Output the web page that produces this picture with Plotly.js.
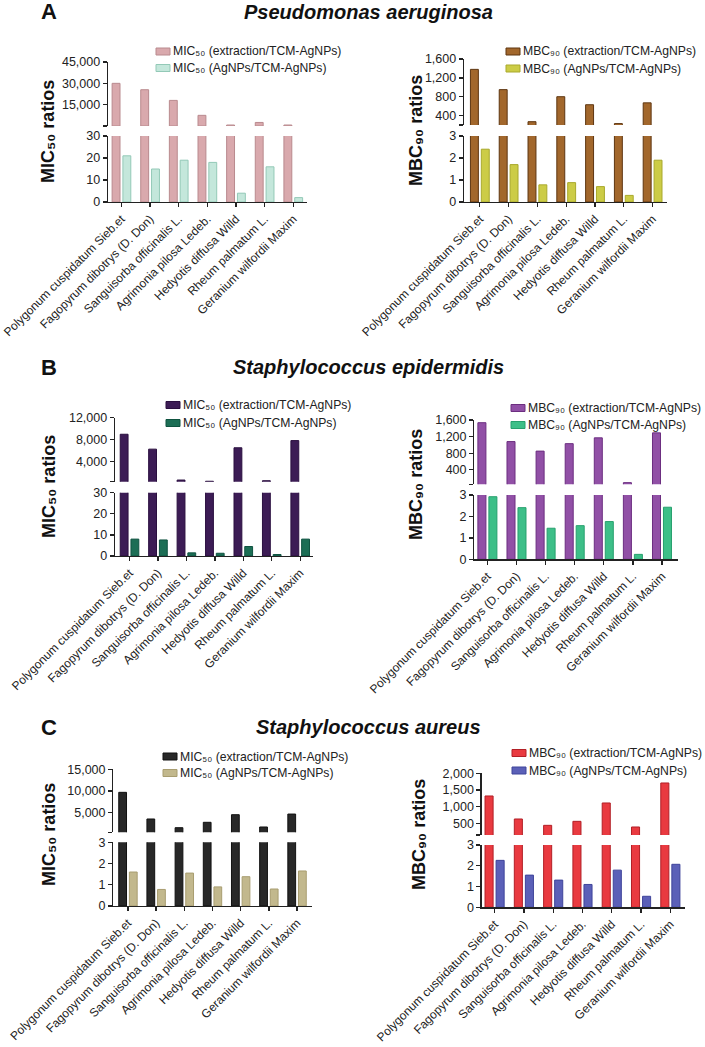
<!DOCTYPE html>
<html><head><meta charset="utf-8">
<script src="https://cdn.plot.ly/plotly-3.0.1.min.js"></script>
<style>html,body{margin:0;padding:0;background:#fff}#chart{width:705px;height:1047px}</style>
</head><body><div id="chart"></div>
<script>
// ---------- DATA ----------
const categories = ['Polygonum cuspidatum Sieb.et', 'Fagopyrum dibotrys (D. Don)', 'Sanguisorba officinalis L.',
  'Agrimonia pilosa Ledeb.', 'Hedyotis diffusa Willd', 'Rheum palmatum L.', 'Geranium wilfordii Maxim'];

// A: Pseudomonas aeruginosa
const paMicExtraction = [30000, 25500, 18000, 7500, 700, 2500, 700];
const paMicAgNPs      = [21, 15, 19, 18, 4, 16, 2];
const paMbcExtraction = [1380, 950, 270, 800, 630, 230, 670];
const paMbcAgNPs      = [2.4, 1.7, 0.78, 0.88, 0.7, 0.3, 1.9];
// B: Staphylococcus epidermidis
const seMicExtraction = [9000, 6300, 700, 480, 6550, 580, 7850];
const seMicAgNPs      = [8, 7.6, 1.5, 1.3, 4.5, 0.7, 8];
const seMbcExtraction = [1535, 1080, 850, 1030, 1170, 90, 1290];
const seMbcAgNPs      = [2.92, 2.41, 1.45, 1.57, 1.76, 0.23, 2.43];
// C: Staphylococcus aureus
const saMicExtraction = [9700, 3560, 1560, 2800, 4550, 1720, 4700];
const saMicAgNPs      = [1.6, 0.78, 1.55, 0.9, 1.38, 0.8, 1.65];
const saMbcExtraction = [1320, 630, 440, 560, 1110, 390, 1710];
const saMbcAgNPs      = [2.26, 1.55, 1.31, 1.1, 1.79, 0.53, 2.07];

// tick values (upper segment first value = axis break, unlabeled)
const paMicUpperTicks = [0, 15000, 30000, 45000];
const paMbcUpperTicks = [200, 400, 800, 1200, 1600];
const seMicUpperTicks = [400, 4000, 8000, 12000];
const seMbcUpperTicks = [50, 400, 800, 1200, 1600];
const saMicUpperTicks = [500, 5000, 10000, 15000];
const saMbcUpperTicks = [150, 500, 1000, 1500, 2000];
const micLowerTicks30 = [0, 10, 20, 30];
const lowerTicks3 = [0, 1, 2, 3];

const panelLetters = ['A', 'B', 'C'];
const species = ['Pseudomonas aeruginosa', 'Staphylococcus epidermidis', 'Staphylococcus aureus'];
const metricMIC = 'MIC\u2085\u2080';   // MIC50
const metricMBC = 'MBC\u2089\u2080';   // MBC90
const seriesLabels = ['(extraction/TCM-AgNPs)', '(AgNPs/TCM-AgNPs)'];

// ---------- LAYOUT / STYLE ----------
const W = 705, H = 1047;
const fx = p => p / W, fy = p => 1 - p / H;
const FONT = 'Liberation Sans, Arial, Helvetica, DejaVu Sans, sans-serif';
const INK = '#222';

const panels = [
  {ext: paMicExtraction, ag: paMicAgNPs, metric: metricMIC,
   c: ['#d9a9ad', '#b98a8e', '#c4e7db', '#93c9b7'],
   x: [108, 307], xr: [-0.47, 6.48], up: [62, 126], upT: paMicUpperTicks, lo: [136, 202], loT: micLowerTicks30,
   yt: [48, 132], lg: [173, 51.5, 68]},
  {ext: paMbcExtraction, ag: paMbcAgNPs, metric: metricMBC,
   c: ['#a2672c', '#5e3611', '#cccc46', '#a9a92c'],
   x: [464, 667], xr: [-0.55, 6.5], up: [59, 125], upT: paMbcUpperTicks, lo: [136, 202], loT: lowerTicks3,
   yt: [416, 131], lg: [523, 51.5, 68.5]},
  {ext: seMicExtraction, ag: seMicAgNPs, metric: metricMIC,
   c: ['#3c1c55', '#2a0f3f', '#1c6e55', '#0f5340'],
   x: [115, 313], xr: [-0.51, 6.45], up: [417.7, 481.7], upT: seMicUpperTicks, lo: [492.7, 556], loT: micLowerTicks30,
   yt: [49, 487], lg: [183, 405, 423]},
  {ext: seMbcExtraction, ag: seMbcAgNPs, metric: metricMBC,
   c: ['#9150a6', '#6c2e80', '#3dbf88', '#27a06e'],
   x: [474.3, 678], xr: [-0.45, 6.55], up: [420, 484.3], upT: seMbcUpperTicks, lo: [495, 559.3], loT: lowerTicks3,
   yt: [416, 485], lg: [528, 408, 425]},
  {ext: saMicExtraction, ag: saMicAgNPs, metric: metricMIC,
   c: ['#282828', '#111111', '#c2b88d', '#a89d70'],
   x: [113.3, 311.7], xr: [-0.52, 6.52], up: [769.3, 832.3], upT: saMicUpperTicks, lo: [842.3, 906], loT: lowerTicks3,
   yt: [49, 835], lg: [180, 756.5, 773]},
  {ext: saMbcExtraction, ag: saMbcAgNPs, metric: metricMBC,
   c: ['#e93a40', '#b21f26', '#5b60b8', '#3f449a'],
   x: [481.7, 685], xr: [-0.44, 6.5], up: [773.3, 835], upT: saMbcUpperTicks, lo: [845, 907.3], loT: lowerTicks3,
   yt: [419, 835], lg: [529, 753, 770.5]},
];

const fmt = v => v.toLocaleString('en-US');
const data = [];
const layout = {
  width: W, height: H, margin: {l: 0, r: 0, t: 0, b: 0},
  paper_bgcolor: '#fff', plot_bgcolor: 'rgba(0,0,0,0)',
  barmode: 'group', bargap: 0.245, bargroupgap: 0.27,
  font: {family: FONT, color: INK, size: 12.5},
  showlegend: false, annotations: [], shapes: []
};

const yBase = {
  showgrid: false, zeroline: false, showline: true, linecolor: INK, linewidth: 1.3,
  ticks: 'outside', ticklen: 4, tickwidth: 1.3, tickcolor: INK,
  tickfont: {family: FONT, size: 12.5, color: INK}, tickmode: 'array', fixedrange: true
};

panels.forEach((p, i) => {
  const xi = i + 1, yl = 2 * i + 1, yu = 2 * i + 2;
  const xId = 'x' + (xi === 1 ? '' : xi);
  const ylId = 'y' + (yl === 1 ? '' : yl), yuId = 'y' + yu;
  const nameExt = p.metric + ' ' + seriesLabels[0];
  const nameAg = p.metric + ' ' + seriesLabels[1];

  // lower segment
  data.push({type: 'bar', x: categories, y: p.ext, name: nameExt, xaxis: xId, yaxis: ylId,
    marker: {color: p.c[0], line: {color: p.c[1], width: 1}}, hoverinfo: 'skip'});
  data.push({type: 'bar', x: categories, y: p.ag, name: nameAg, xaxis: xId, yaxis: ylId,
    marker: {color: p.c[2], line: {color: p.c[3], width: 1}}, hoverinfo: 'skip'});
  // upper segment (broken axis)
  data.push({type: 'bar', x: categories, y: p.ext, name: nameExt, xaxis: xId, yaxis: yuId,
    marker: {color: p.c[0], line: {color: p.c[1], width: 1}}, hoverinfo: 'skip'});
  data.push({type: 'bar', x: categories, y: p.ag, name: nameAg, xaxis: xId, yaxis: yuId,
    marker: {color: p.c[2], opacity: 0, line: {width: 0}}, hoverinfo: 'skip'});

  layout['xaxis' + (xi === 1 ? '' : xi)] = {
    domain: [fx(p.x[0]), fx(p.x[1])], anchor: ylId, type: 'category', range: p.xr,
    showgrid: false, zeroline: false, showline: true, linecolor: INK, linewidth: 1.3,
    ticks: 'outside', ticklen: 4, tickwidth: 1.3, tickcolor: INK, tickangle: -45,
    tickfont: {family: FONT, size: 12, color: INK}, fixedrange: true
  };
  layout['yaxis' + (yl === 1 ? '' : yl)] = Object.assign({}, yBase, {
    domain: [fy(p.lo[1]), fy(p.lo[0])], anchor: xId, range: [p.loT[0], p.loT[p.loT.length - 1]],
    tickvals: p.loT, ticktext: p.loT.map(fmt)
  });
  layout['yaxis' + yu] = Object.assign({}, yBase, {
    domain: [fy(p.up[1]), fy(p.up[0])], anchor: xId, range: [p.upT[0], p.upT[p.upT.length - 1]],
    tickvals: p.upT, ticktext: p.upT.map((v, k) => k === 0 ? '' : fmt(v))
  });

  // legend (swatch + label) per panel
  [[nameExt, p.c[0], p.c[1], p.lg[1]], [nameAg, p.c[2], p.c[3], p.lg[2]]].forEach(([txt, fill, edge, cy]) => {
    layout.shapes.push({type: 'rect', xref: 'paper', yref: 'paper',
      x0: fx(p.lg[0] - 17), x1: fx(p.lg[0] - 3), y0: fy(cy + 3.5), y1: fy(cy - 3.5),
      fillcolor: fill, line: {color: edge, width: 1}});
    layout.annotations.push({xref: 'paper', yref: 'paper', x: fx(p.lg[0] - 2), y: fy(cy), xanchor: 'left', yanchor: 'middle',
      showarrow: false, text: txt, font: {family: FONT, size: 12.2, color: INK}});
  });

  layout.annotations.push({
    xref: 'paper', yref: 'paper', x: fx(p.yt[0]), y: fy(p.yt[1]), xanchor: 'center', yanchor: 'middle',
    textangle: -90, showarrow: false,
    text: '<b>' + p.metric + ' ratios</b>',
    font: {family: FONT, size: 18, color: '#111'}
  });
});

const letterY = [12, 367, 727];
species.forEach((s, k) => {
  layout.annotations.push({xref: 'paper', yref: 'paper', x: fx(48.5), y: fy(letterY[k]), xanchor: 'center', yanchor: 'middle',
    showarrow: false, text: '<b>' + panelLetters[k] + '</b>', font: {family: FONT, size: 22, color: '#111'}});
  layout.annotations.push({xref: 'paper', yref: 'paper', x: fx(368), y: fy(letterY[k]), xanchor: 'center', yanchor: 'middle',
    showarrow: false, text: '<b><i>' + s + '</i></b>', font: {family: FONT, size: 20, color: '#111'}});
});

Plotly.newPlot('chart', data, layout, {displayModeBar: false, staticPlot: true});
</script>
</body></html>
